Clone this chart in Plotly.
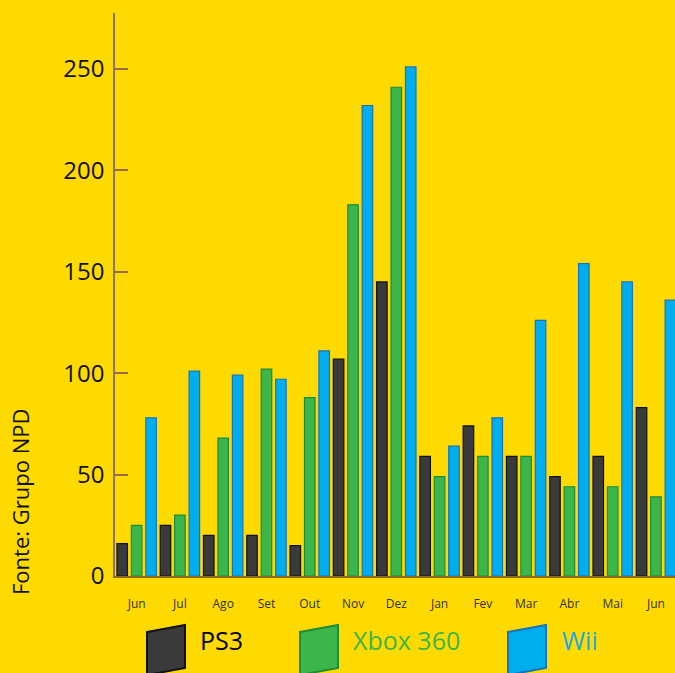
import plotly.graph_objects as go

months = ["Jun", "Jul", "Ago", "Set", "Out", "Nov", "Dez", "Jan", "Fev", "Mar", "Abr", "Mai", "Jun"]
ps3 = [16, 25, 20, 20, 15, 107, 145, 59, 74, 59, 49, 59, 83]
xbox360 = [25, 30, 68, 102, 88, 183, 241, 49, 59, 59, 44, 44, 39]
wii = [78, 101, 99, 97, 111, 232, 251, 64, 78, 126, 154, 145, 136]

series = [
    ("PS3", ps3, "#3a3a3a", "#111111", "#000000"),
    ("Xbox 360", xbox360, "#3cb54a", "#1e8a3a", "#3cb54a"),
    ("Wii", wii, "#00aeef", "#1a73b8", "#1ba9e1"),
]

W, H = 675, 673
L, R, T, B = 115, 675, 13, 576
BG = "#ffda00"
FONT = "Open Sans"

x = list(range(len(months)))
fig = go.Figure()
for name, vals, col, edge, _ in series:
    fig.add_trace(go.Bar(x=x, y=vals, name=name, marker=dict(color=col, line=dict(color=edge, width=1.2)),
                         showlegend=False))


def px(xp):
    return (xp - L) / (R - L)


def py(yp):
    return (B - yp) / (B - T)


# legend swatches (3D-ish parallelograms) and labels
legend_x = [147, 300, 508]
text_x = [198, 351, 560]
shapes = []
annotations = []
for (name, vals, col, edge, tcol), lx, tx in zip(series, legend_x, text_x):
    path = "M {} {} L {} {} L {} {} L {} {} Z".format(
        px(lx), py(632), px(lx + 38), py(625), px(lx + 38), py(668), px(lx), py(675))
    shapes.append(dict(type="path", xref="paper", yref="paper", path=path,
                       fillcolor=col, line=dict(color=edge, width=2)))
    annotations.append(dict(x=px(tx), y=py(640), xref="paper", yref="paper", text=name,
                            showarrow=False, xanchor="left", yanchor="middle",
                            font=dict(family=FONT, size=25, color=tcol)))

annotations.append(dict(x=-(L - 20) / (R - L), y=py(502), xref="paper", yref="paper",
                        text="Fonte: Grupo NPD", textangle=-90, showarrow=False,
                        xanchor="center", yanchor="middle",
                        font=dict(family=FONT, size=22, color="#111111")))

fig.update_layout(
    width=W, height=H,
    margin=dict(l=L, r=W - R, t=T, b=H - B),
    paper_bgcolor=BG, plot_bgcolor=BG,
    barmode="group", bargap=0.0, bargroupgap=0.27,
    shapes=shapes, annotations=annotations,
    font=dict(family=FONT),
)
fig.update_xaxes(range=[-0.5, 12.44], tickvals=x, ticktext=months, showgrid=False, zeroline=False,
                 showline=True, linecolor="#8a6a1a", linewidth=2, ticks="",
                 tickfont=dict(family=FONT, size=12, color="#333333"), ticklabelstandoff=16)
fig.update_yaxes(range=[0, 277.6], tickvals=[0, 50, 100, 150, 200, 250], showgrid=False, zeroline=False,
                 showline=True, linecolor="#8b7355", linewidth=1.5, ticks="inside", ticklen=13,
                 tickcolor="#9a6a4a", tickwidth=1.5,
                 tickfont=dict(family=FONT, size=24, color="#111111"), ticklabelstandoff=4)

fig.write_html("out.html", config={"displayModeBar": False},
               post_script="document.body.style.margin='0';document.body.style.background='%s';" % BG)
